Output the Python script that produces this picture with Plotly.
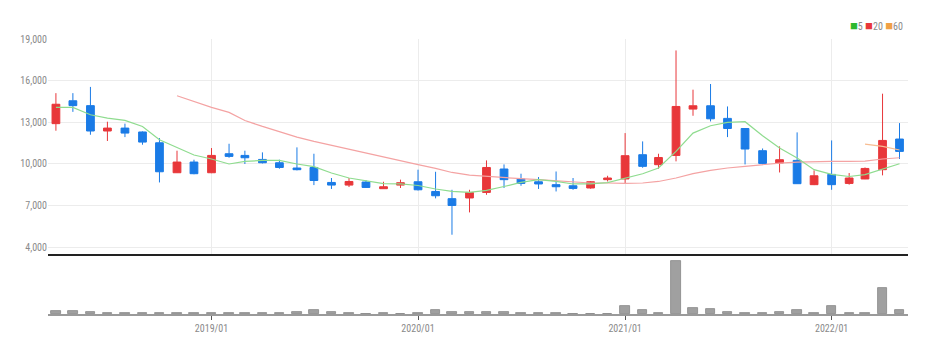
import plotly.graph_objects as go
import pandas as pd

months = pd.date_range("2018-04-01", "2022-05-01", freq="MS").strftime("%Y-%m-%d").tolist()

open_ = [12900, 14550, 14200, 12370, 12580, 12300, 11520, 9360, 10130, 9360,
         10730, 10610, 10320, 10080, 9700, 9740, 8660, 8470, 8690, 8210,
         8470, 8710, 8010, 7490, 7540, 7940, 9630, 8910, 8710, 8500,
         8420, 8260, 8860, 8910, 10660, 9940, 10610, 13950, 14190, 13280,
         12550, 10950, 10060, 10250, 8500, 9240, 8590, 8910, 9580, 11790]
high = [15100, 15100, 15550, 13040, 12900, 12340, 11860, 10950, 10300, 11140,
        11450, 10950, 10830, 10300, 11190, 10730, 8980, 8980, 8830, 8710,
        8860, 9580, 9430, 8130, 8130, 10250, 9960, 9290, 9050, 9450,
        8980, 8760, 9140, 12220, 11620, 10730, 18180, 15350, 15760, 14140,
        12560, 11110, 11260, 12270, 9530, 11690, 9340, 9740, 15060, 12940]
low = [12390, 13750, 12100, 11650, 11930, 11380, 8660, 9340, 9250, 9330,
       10440, 9990, 10030, 9650, 9530, 8470, 8190, 8330, 8260, 8190,
       8260, 8080, 7510, 4890, 6500, 7770, 8260, 8420, 8190, 8010,
       8130, 8210, 8730, 8620, 9720, 9650, 10180, 13470, 13060, 11930,
       9960, 9960, 9380, 8560, 8470, 8130, 8500, 8900, 9170, 10350]
close = [14300, 14200, 12370, 12580, 12220, 11570, 9430, 10130, 9290, 10610,
         10540, 10440, 10080, 9740, 9580, 8800, 8470, 8730, 8300, 8350,
         8640, 8130, 7700, 7000, 7940, 9740, 8860, 8590, 8550, 8350,
         8230, 8710, 8980, 10590, 9820, 10460, 14140, 14190, 13250, 12550,
         11070, 10030, 10300, 8570, 9140, 8500, 8980, 9670, 11690, 10900]

volume = [260, 260, 200, 80, 80, 80, 80, 80, 60, 80,
          80, 80, 80, 50, 200, 440, 240, 80, 40, 80,
          30, 80, 370, 180, 200, 200, 200, 110, 110, 80,
          30, 30, 30, 800, 400, 80, 5270, 570, 540, 240,
          80, 80, 240, 400, 80, 800, 80, 80, 2580, 370]

ma5 = [14070, 14070, 13540, 13300, 13130, 12700, 11740, 11185, 10640, 10350,
       9990, 10175, 10250, 10250, 9990, 9800, 9340, 8980, 8780, 8570,
       8550, 8440, 8185, 8010, 7940, 8085, 8370, 8660, 8860, 8730,
       8550, 8550, 8650, 8950, 9290, 9700, 10900, 12220, 12750, 12990,
       13040, 12030, 11140, 10420, 9580, 9240, 9090, 9220, 9630, 10010]
ma20 = [None] * 7 + [
       14910, 14500, 14070, 13710, 13130, 12700, 12320, 11930, 11620, 11330,
       11040, 10780, 10490, 10225, 9940, 9670, 9380, 9190, 9090, 9020,
       8930, 8860, 8780, 8690, 8620, 8620, 8590, 8620, 8730, 8980,
       9290, 9530, 9700, 9815, 9940, 10060, 10130, 10175, 10175, 10175,
       10200, 10350, 10440]
ma60 = [None] * 47 + [11430, 11260, 11000]

y_ticks = [4000, 7000, 10000, 13000, 16000, 19000]

fig = go.Figure()

fig.add_trace(go.Scatter(x=months, y=ma20, mode="lines", line=dict(color="#f4a3a3", width=1.2),
                         xaxis="x", yaxis="y", showlegend=False, hoverinfo="skip"))
fig.add_trace(go.Scatter(x=months, y=ma5, mode="lines", line=dict(color="#8fdc8f", width=1.2),
                         xaxis="x", yaxis="y", showlegend=False, hoverinfo="skip"))
fig.add_trace(go.Scatter(x=months, y=ma60, mode="lines", line=dict(color="#f7bd92", width=1.2),
                         xaxis="x", yaxis="y", showlegend=False, hoverinfo="skip"))

fig.add_trace(go.Candlestick(
    x=months, open=open_, high=high, low=low, close=close,
    increasing=dict(line=dict(color="#e8373a", width=1), fillcolor="#e8373a"),
    decreasing=dict(line=dict(color="#1a7be6", width=1), fillcolor="#1a7be6"),
    whiskerwidth=0, xaxis="x", yaxis="y", showlegend=False))

fig.add_trace(go.Bar(x=months, y=volume, xaxis="x2", yaxis="y2",
                     marker=dict(color="#a0a0a0", line=dict(color="#858585", width=0.8)),
                     width=1.42e9, showlegend=False))

x_range = ["2018-03-18", "2022-05-16"]
tick_font = dict(family="Liberation Sans Narrow, Roboto Condensed, Lato, sans-serif", size=10, color="#8a8a8a")

fig.update_layout(
    width=928, height=353,
    margin=dict(l=48, r=20, t=39, b=39),
    plot_bgcolor="white", paper_bgcolor="white",
    bargap=0,
    xaxis=dict(domain=[0, 1], anchor="y", range=x_range, type="date",
               showticklabels=False, showgrid=True, gridcolor="#ececec", gridwidth=1,
               tick0="2019-01-01", dtick="M12", ticks="",
               showline=True, linecolor="#222222", linewidth=2,
               rangeslider=dict(visible=False), zeroline=False),
    yaxis=dict(domain=[0.2182, 1], anchor="x", range=[3500, 19005],
               tickvals=y_ticks, tickformat=",", showgrid=True, gridcolor="#ececec",
               zeroline=False, tickfont=tick_font, ticks=""),
    xaxis2=dict(domain=[0, 1], anchor="y2", range=x_range, type="date",
                tick0="2019-01-01", dtick="M12", tickformat="%Y/%m",
                showgrid=False, ticks="outside", ticklen=4, tickcolor="#555555",
                showline=True, linecolor="#9a9a9a", linewidth=2,
                tickfont=tick_font, zeroline=False),
    yaxis2=dict(domain=[0, 0.2145], anchor="x2", range=[0, 5900],
                showgrid=False, showticklabels=False, zeroline=False),
    annotations=[dict(
        xref="paper", yref="paper", x=0.9965, y=1.05, xanchor="right", yanchor="middle",
        showarrow=False,
        text='<span style="color:#2eb82e;font-size:13px">■</span>5 '
             '<span style="color:#e8373a;font-size:13px">■</span>20 '
             '<span style="color:#f0a045;font-size:13px">■</span>60',
        font=dict(family="Liberation Sans Narrow, Roboto Condensed, Lato, sans-serif", size=10, color="#8a8a8a"))],
)

fig.write_html("out.html")
